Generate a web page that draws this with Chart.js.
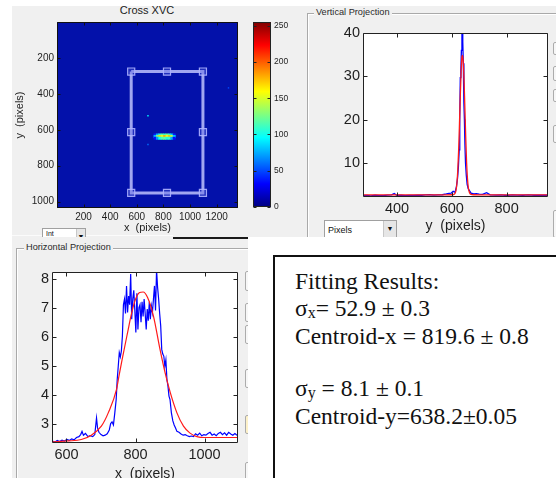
<!DOCTYPE html>
<html>
<head>
<meta charset="utf-8">
<title>Cross XVC projections</title>
<script src="https://cdn.jsdelivr.net/npm/chart.js@4.4.0/dist/chart.umd.min.js"></script>
<style>
  html, body { margin: 0; padding: 0; }
  body { width: 556px; height: 478px; position: relative; overflow: hidden; background: #fff;
         font-family: 'Liberation Sans', Arial, sans-serif; }
  .abs { position: absolute; }
  .grey { position: absolute; background: #f0f0f0; }
  canvas { position: absolute; }
  .panel { position: absolute; border: 1px solid #a9a9a9; box-shadow: inset 1px 1px 0 #fff; }
  .ptitle { position: absolute; background: #f0f0f0; font-size: 9.2px; color: #2a2a2a; padding: 0 2px; line-height: 11px; }
  .btn { position: absolute; width: 12px; background: #f7f7f7; border: 1px solid #acacac; border-radius: 2px; }
  .drop { position: absolute; background: #fff; border: 1px solid #a0a0a0; font-size: 9px; color: #111; }
  .drop .arr { position: absolute; right: 0; top: 0; bottom: 0; width: 12px; background: #e6e6e6; border-left: 1px solid #c8c8c8;
               font-size: 7px; text-align: center; line-height: 16px; }
  .fit { position: absolute; left: 295px; font-family: 'Liberation Serif', 'Times New Roman', serif; font-size: 23.5px;
         line-height: 23.5px; color: #111; white-space: pre; }
  .fit sub { font-size: 16px; line-height: 0; vertical-align: -2px; }
</style>
</head>
<body>

<div class="grey" style="left:12px; top:6px; width:544px; height:231px;"></div>
<div class="abs" style="left:12px; top:235px; width:161px; height:1px; background:#fbfbfb;"></div>

<div class="drop" style="left:324px; top:220px; width:71px; height:18px;"><span style="position:absolute; left:3px; top:4px;">Pixels</span><div class="arr">&#9660;</div></div>
<div class="drop" style="left:42px; top:228px; width:42px; height:14px;"><span style="position:absolute; left:3px; top:1px; font-size:7px;">Int</span><div class="arr" style="width:8px;">&#9660;</div></div>

<div class="grey" style="left:12px; top:237px; width:236px; height:241px;"></div>

<div class="abs" style="left:0; top:4px; width:294px; text-align:center; font-size:11px; color:#222;">Cross XVC</div>

<div class="panel" style="left:307px; top:13px; width:270px; height:240px;"></div>
<div class="ptitle" style="left:314px; top:7px;">Vertical Projection</div>
<div class="panel" style="left:16px; top:248px; width:250px; height:250px;"></div>
<div class="ptitle" style="left:24px; top:242px;">Horizontal Projection</div>

<div class="btn" style="left:553px; top:42px; height:11px;"></div>
<div class="btn" style="left:553px; top:66px; height:13px;"></div>
<div class="btn" style="left:553px; top:89px; height:11px;"></div>
<div class="btn" style="left:553px; top:125px; height:16px;"></div>
<div class="btn" style="left:553px; top:210px; height:26px;"></div>
<div class="btn" style="left:245px; top:271px; height:18px;"></div>
<div class="btn" style="left:245px; top:303px; height:17px;"></div>
<div class="btn" style="left:245px; top:325px; height:17px;"></div>
<div class="btn" style="left:245px; top:369px; height:17px;"></div>
<div class="btn" style="left:245px; top:415px; height:17px; background:#fdf1c8;"></div>
<div class="btn" style="left:245px; top:462px; height:20px;"></div>

<canvas id="heat" width="250" height="240" style="left:0; top:0;"></canvas>
<canvas id="cbar" width="60" height="240" style="left:240px; top:0;"></canvas>
<canvas id="vproj" width="256" height="240" style="left:300px; top:0;"></canvas>
<canvas id="hproj" width="250" height="250" style="left:0; top:240px;"></canvas>

<div class="abs" style="left:248px; top:237px; width:308px; height:241px; background:#fff;"></div>
<div class="abs" style="left:173px; top:237px; width:75px; height:2px; background:#1a1a1a;"></div>

<div class="abs" style="left:273px; top:255px; width:320px; height:260px; border:2px solid #111; box-sizing:border-box;"></div>
<div class="fit" style="top:270px;">Fitting Results:</div>
<div class="fit" style="top:297px;">σ<sub>x</sub>= 52.9 ± 0.3</div>
<div class="fit" style="top:325px;">Centroid-x = 819.6 ± 0.8</div>
<div class="fit" style="top:377px;">σ<sub>y</sub> = 8.1 ± 0.1</div>
<div class="fit" style="top:405px;">Centroid-y=638.2±0.05</div>

<script>
// ---- image (Cross XVC) ----
const imgXTicks = [200, 400, 600, 800, 1000, 1200];
const imgYTicks = [200, 400, 600, 800, 1000];
const roiX = [558, 1097, 1097, 558, 558];
const roiY = [276, 276, 951, 951, 276];
const handleX = [558, 827, 1097, 1097, 1097, 827, 558, 558];
const handleY = [276, 276, 276, 613, 951, 951, 951, 613];
const spotCols = [737, 755, 773, 791, 809, 827, 845, 863, 881];
const spotRows = [629, 638, 647];
const spotV = [
  [40, 75, 105, 120, 110, 125, 110, 85, 40],
  [80, 130, 170, 155, 180, 160, 175, 150, 85],
  [35, 70, 100, 115, 120, 105, 110, 75, 35]
];
const hotX = [684, 684, 1289];
const hotY = [522, 682, 367];
const hotV = [95, 60, 50];
const cbarTicks = [0, 50, 100, 150, 200, 250];

// ---- vertical projection ----
const vTicksX = [400, 600, 800];
const vTicksY = [10, 20, 30, 40];
const vProjX = [276, 290, 305, 320, 335, 350, 365, 380, 390, 400,
                415, 430, 445, 460, 475, 490, 505, 520, 535, 550,
                565, 580, 590, 598, 605, 612, 617, 621, 624, 627,
                629, 631, 633, 635, 637, 638, 640, 642, 644, 646,
                648, 650, 653, 656, 660, 665, 670, 680, 690, 700,
                712, 727, 740, 760, 780, 800, 820, 840, 860, 880,
                900, 920, 940, 951];
const vProjY = [2.40, 2.45, 2.38, 2.50, 2.42, 2.40, 2.55, 2.60, 2.90, 2.45,
                2.50, 2.42, 2.48, 2.45, 2.55, 2.50, 2.58, 2.62, 2.55, 2.60,
                2.62, 2.80, 2.95, 3.00, 3.40, 3.20, 4.50, 6.50, 9.00, 13.0,
                20.0, 29.7, 31.0, 36.0, 40.5, 41.0, 38.0, 33.0, 24.0, 20.0,
                14.0, 10.0, 7.00, 5.00, 4.00, 3.50, 3.00, 2.80, 2.90, 2.75,
                2.70, 3.10, 2.60, 2.55, 2.60, 2.45, 2.60, 2.55, 2.50, 2.60,
                2.50, 2.55, 2.50, 2.50];
const vFitX = [276, 400, 500, 580, 600, 610, 615, 619, 622, 625, 628, 631, 634, 637,
               639, 642, 645, 648, 651, 654, 657, 660, 664, 670, 680, 700, 800, 951];
const vFitY = [2.6, 2.6, 2.6, 2.6, 2.62, 2.8, 3.5, 5.5, 8.5, 13, 19, 25.5, 31, 34.5,
               34.8, 33, 28.5, 22, 15.5, 10, 6.5, 4.4, 3.2, 2.7, 2.62, 2.6, 2.6, 2.6];

// ---- horizontal projection ----
const hTicksX = [600, 800, 1000];
const hTicksY = [3, 4, 5, 6, 7, 8];
const hProjX = [559, 566, 573, 580, 587, 594, 601, 608, 615, 622,
                629, 636, 641, 645, 649, 655, 662, 669, 676, 682,
                687, 690, 694, 700, 706, 712, 718, 724, 728, 732,
                736, 740, 744, 747, 750, 753, 756, 759, 762, 765,
                768, 771, 774, 777, 780, 783, 786, 789, 792, 795,
                798, 801, 804, 807, 810, 813, 816, 819, 822, 825,
                828, 831, 834, 837, 840, 843, 846, 849, 852, 855,
                858, 861, 864, 867, 870, 873, 876, 879, 882, 885,
                888, 891, 894, 897, 900, 904, 908, 912, 916, 920,
                926, 932, 938, 944, 950, 956, 962, 968, 974, 980,
                986, 992, 998, 1004, 1010, 1016, 1022, 1028, 1034, 1040,
                1046, 1052, 1058, 1064, 1070, 1076, 1082, 1088, 1094];
const hProjY = [2.40, 2.36, 2.42, 2.38, 2.43, 2.40, 2.45, 2.42, 2.47, 2.44,
                2.52, 2.55, 2.62, 2.73, 2.60, 2.66, 2.55, 2.58, 2.55, 2.62,
                3.19, 2.85, 2.70, 2.62, 2.58, 2.60, 2.65, 2.78, 3.00, 3.06,
                2.95, 3.37, 3.83, 4.52, 4.98, 5.45, 5.30, 5.50, 6.02, 7.10,
                7.29, 6.80, 7.75, 6.83, 7.40, 7.10, 8.16, 6.60, 7.30, 7.60,
                6.90, 6.14, 7.50, 6.25, 7.00, 7.10, 6.50, 7.20, 6.70, 7.30,
                6.80, 6.25, 6.95, 6.55, 7.20, 6.60, 7.06, 6.83, 7.30, 7.75,
                6.90, 8.30, 7.70, 7.30, 6.80, 6.37, 5.56, 5.40, 5.33, 4.98,
                5.20, 4.52, 4.30, 3.95, 3.83, 3.37, 3.10, 2.95, 2.85, 2.73,
                2.70, 2.64, 2.60, 2.62, 2.58, 2.55, 2.57, 2.55, 2.65, 2.60,
                2.67, 2.58, 2.62, 2.60, 2.66, 2.70, 2.60, 2.64, 2.58, 2.66,
                2.70, 2.62, 2.68, 2.60, 2.70, 2.64, 2.60, 2.66, 2.60];
const hFitX = [559, 605, 643, 672, 701, 721, 745, 752, 761, 777, 789, 800, 812,
               822, 835, 852, 871, 886, 901, 920, 939, 958, 978, 1000, 1050, 1097];
const hFitY = [2.37, 2.40, 2.45, 2.60, 2.91, 3.37, 4.18, 4.64, 5.20, 6.14, 6.83, 7.29, 7.52,
               7.54, 7.35, 6.71, 5.56, 4.74, 4.06, 3.37, 2.91, 2.67, 2.55, 2.52, 2.52, 2.52];

Chart.defaults.font.family = "'Liberation Sans', Arial, sans-serif";
Chart.defaults.color = '#1e1e1e';

// MATLAB-like jet colormap
function jet(v) {
  const t = Math.max(0, Math.min(1, v / 255));
  const c = k => Math.round(255 * Math.min(1, Math.max(0, 1.5 - Math.abs(4 * t - k))));
  return 'rgb(' + c(3) + ',' + c(2) + ',' + c(1) + ')';
}

const pts = (xs, ys) => xs.map((x, i) => ({ x: x, y: ys[i] }));

// box around the plot area with inward tick marks on every side
const boxPlugin = {
  id: 'box',
  beforeDatasetsDraw(chart, args, opts) {
    if (!opts.bg) return;
    const a = chart.chartArea, c = chart.ctx;
    c.save();
    c.fillStyle = opts.bg;
    c.fillRect(a.left, a.top, a.right - a.left, a.bottom - a.top);
    c.restore();
  },
  afterDatasetsDraw(chart, args, opts) {
    const a = chart.chartArea, c = chart.ctx, len = opts.tick || 4;
    const L = Math.round(a.left) + 0.5, R = Math.round(a.right) - 0.5;
    const T = Math.round(a.top) + 0.5, B = Math.round(a.bottom) - 0.5;
    const xs = chart.scales.x, ys = chart.scales.y;
    c.save();
    c.strokeStyle = opts.color || '#262626';
    c.lineWidth = 1;
    c.beginPath();
    if (xs && xs.options.display) xs.ticks.forEach(t => {
      const p = Math.round(xs.getPixelForValue(t.value)) + 0.5;
      c.moveTo(p, T); c.lineTo(p, T + len);
      c.moveTo(p, B); c.lineTo(p, B - len);
    });
    if (ys && ys.options.display) ys.ticks.forEach(t => {
      const p = Math.round(ys.getPixelForValue(t.value)) + 0.5;
      c.moveTo(L, p); c.lineTo(L + len, p);
      c.moveTo(R, p); c.lineTo(R - len, p);
    });
    c.rect(L, T, R - L, B - T);
    c.stroke();
    c.restore();
  }
};

function axis(min, max, ticks, size, extra) {
  return Object.assign({
    type: 'linear', min: min, max: max,
    grid: { display: false, drawTicks: false }, border: { display: false },
    afterBuildTicks: s => { s.ticks = ticks.map(v => ({ value: v })); },
    ticks: { autoSkip: false, maxRotation: 0, minRotation: 0, padding: 3,
             font: { size: size }, callback: v => String(v) }
  }, extra);
}

const baseOpts = {
  animation: false, responsive: false, devicePixelRatio: 1,
  plugins: { legend: { display: false }, tooltip: { enabled: false } }
};

// image with ROI and beam spot
new Chart(document.getElementById('heat'), {
  type: 'scatter',
  data: { datasets: [
    { data: pts(handleX, handleY), pointStyle: 'rect', pointRadius: 5, pointBorderWidth: 1.2,
      pointBorderColor: 'rgba(175,180,255,0.9)', pointBackgroundColor: 'rgba(90,100,225,0.35)' },
    { data: pts(roiX, roiY), showLine: true, borderColor: 'rgba(196,200,255,0.82)', borderWidth: 3, pointRadius: 0 },
    { data: spotRows.flatMap(y => spotCols.map(x => ({ x: x, y: y }))), pointStyle: 'rect', pointRadius: 2.1,
      pointBorderWidth: 0, pointBackgroundColor: spotV.flat().map(jet) },
    { data: pts(hotX, hotY), pointStyle: 'rect', pointRadius: 1, pointBorderWidth: 0, pointBackgroundColor: hotV.map(jet) }
  ]},
  options: Object.assign({}, baseOpts, {
    layout: { padding: { left: 0, top: 22, right: 12, bottom: 0 } },
    plugins: Object.assign({}, baseOpts.plugins, { box: { bg: 'rgb(3,17,170)', color: '#111', tick: 3 } }),
    scales: {
      x: axis(0.5, 1360.5, imgXTicks, 10, {
        afterFit: s => { s.height = 32; },
        title: { display: true, text: 'x  (pixels)', font: { size: 11 }, padding: { top: 0, bottom: 5 } }
      }),
      y: axis(0.5, 1035, imgYTicks, 10, {
        reverse: true,
        afterFit: s => { s.width = 57; },
        title: { display: true, text: 'y  (pixels)', font: { size: 11 }, padding: { top: 13, bottom: 0 } }
      })
    }
  }),
  plugins: [boxPlugin]
});

// colour bar
new Chart(document.getElementById('cbar'), {
  type: 'bar',
  data: { labels: [''], datasets: [{
    data: [255], barPercentage: 1, categoryPercentage: 1, borderWidth: 0,
    backgroundColor: ctx => {
      const a = ctx.chart.chartArea;
      if (!a) return '#00f';
      const g = ctx.chart.ctx.createLinearGradient(0, a.bottom, 0, a.top);
      [0, 0.125, 0.375, 0.625, 0.875, 1].forEach(t => g.addColorStop(t, jet(t * 255)));
      return g;
    }
  }]},
  options: Object.assign({}, baseOpts, {
    layout: { padding: { left: 13, top: 22, right: 0, bottom: 33 } },
    plugins: Object.assign({}, baseOpts.plugins, { box: { color: '#222', tick: 3 } }),
    scales: {
      x: { display: false },
      y: axis(0, 255, cbarTicks, 8.5, { position: 'right', afterFit: s => { s.width = 29; } })
    }
  }),
  plugins: [boxPlugin]
});

// vertical projection
new Chart(document.getElementById('vproj'), {
  type: 'scatter',
  data: { datasets: [
    { data: pts(vFitX, vFitY), showLine: true, borderColor: '#ff1a1a', borderWidth: 1.3, pointRadius: 0,
      cubicInterpolationMode: 'monotone' },
    { data: pts(vProjX, vProjY), showLine: true, borderColor: '#0000ff', borderWidth: 1.3, pointRadius: 0 }
  ]},
  options: Object.assign({}, baseOpts, {
    layout: { padding: { left: 0, top: 33, right: 8, bottom: 0 } },
    plugins: Object.assign({}, baseOpts.plugins, { box: { bg: '#fff', color: '#222', tick: 4 } }),
    scales: {
      x: axis(276, 951, vTicksX, 14.5, {
        afterFit: s => { s.height = 43; },
        title: { display: true, text: 'y  (pixels)', font: { size: 14 }, padding: { top: 0, bottom: 5 } }
      }),
      y: axis(2.1, 40, vTicksY, 14.5, { afterFit: s => { s.width = 63; } })
    }
  }),
  plugins: [boxPlugin]
});

// horizontal projection
new Chart(document.getElementById('hproj'), {
  type: 'scatter',
  data: { datasets: [
    { data: pts(hFitX, hFitY), showLine: true, borderColor: '#ff1a1a', borderWidth: 1.2, pointRadius: 0,
      cubicInterpolationMode: 'monotone' },
    { data: pts(hProjX, hProjY), showLine: true, borderColor: '#0000ff', borderWidth: 1.2, pointRadius: 0 }
  ]},
  options: Object.assign({}, baseOpts, {
    layout: { padding: { left: 0, top: 32, right: 12, bottom: 0 } },
    plugins: Object.assign({}, baseOpts.plugins, { box: { bg: '#fff', color: '#222', tick: 4 } }),
    scales: {
      x: axis(558, 1097, hTicksX, 14.5, {
        afterFit: s => { s.height = 47; },
        title: { display: true, text: 'x  (pixels)', font: { size: 14 }, padding: { top: 0, bottom: 7 } }
      }),
      y: axis(2.33, 8.23, hTicksY, 14.5, { afterFit: s => { s.width = 52; } })
    }
  }),
  plugins: [boxPlugin]
});
</script>
</body>
</html>
